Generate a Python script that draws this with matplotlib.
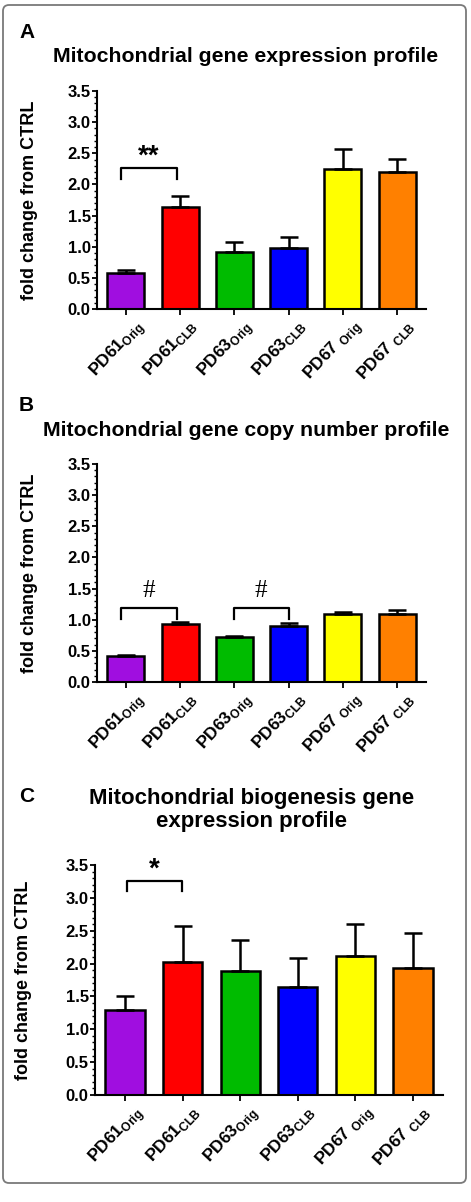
import matplotlib
matplotlib.use("Agg")
import matplotlib.pyplot as plt
import numpy as np
from matplotlib.patches import FancyBboxPatch
from matplotlib.ticker import MultipleLocator
from matplotlib.transforms import ScaledTranslation

plt.rcParams["font.family"] = ["Liberation Sans", "DejaVu Sans"]
plt.rcParams["mathtext.fontset"] = "custom"
plt.rcParams["mathtext.rm"] = "Liberation Sans:bold"

# data
labels = [r"PD61$_{\mathrm{Orig}}$", r"PD61$_{\mathrm{CLB}}$",
          r"PD63$_{\mathrm{Orig}}$", r"PD63$_{\mathrm{CLB}}$",
          r"PD67 $_{\mathrm{Orig}}$", r"PD67 $_{\mathrm{CLB}}$"]
colors = ["#a00ee0", "#ff0000", "#00bb00", "#0000ff", "#ffff00", "#ff8000"]

expr_mean = [0.57, 1.64, 0.91, 0.98, 2.25, 2.20]
expr_err = [0.05, 0.18, 0.16, 0.17, 0.32, 0.21]

copy_mean = [0.41, 0.93, 0.72, 0.90, 1.09, 1.09]
copy_err = [0.02, 0.03, 0.02, 0.05, 0.04, 0.06]

bio_mean = [1.29, 2.02, 1.89, 1.64, 2.12, 1.94]
bio_err = [0.21, 0.55, 0.47, 0.45, 0.48, 0.52]

W, H = 471, 1202
fig = plt.figure(figsize=(W / 100, H / 100), dpi=100)

# rounded frame
frame = FancyBboxPatch((0.09, 0.25), 4.51, 11.66, boxstyle="round,pad=0.06",
                       transform=fig.dpi_scale_trans, fill=False,
                       edgecolor="#7a7a7a", linewidth=1.3)
fig.patches.append(frame)


def panel(rect, means, errs, xpad):
    ax = fig.add_axes(rect)
    x = np.arange(len(means))
    ax.bar(x, means, width=0.68, color=colors, edgecolor="black", linewidth=1.8,
           yerr=[np.zeros(len(errs)), errs],
           error_kw=dict(ecolor="black", elinewidth=1.8, capsize=6.5, capthick=1.8),
           zorder=2)
    ax.set_xlim(-xpad, len(means) - 1 + xpad)
    ax.set_ylim(0, 3.5)
    ax.yaxis.set_major_locator(MultipleLocator(0.5))
    ax.yaxis.set_minor_locator(MultipleLocator(0.1))
    ax.yaxis.set_major_formatter(matplotlib.ticker.FormatStrFormatter("%.1f"))
    ax.spines["top"].set_visible(False)
    ax.spines["right"].set_visible(False)
    ax.spines["left"].set_linewidth(1.5)
    ax.spines["bottom"].set_linewidth(1.5)
    ax.tick_params(axis="y", which="major", length=3.5, width=1.3, labelsize=12, pad=1)
    ax.tick_params(axis="y", which="minor", length=2, width=1)
    ax.tick_params(axis="x", length=4, width=1.3, pad=1)
    for t in ax.get_yticklabels():
        t.set_fontweight("bold")
    ax.set_xticks(x)
    ax.set_xticklabels(labels, rotation=47, ha="right", rotation_mode="anchor",
                       fontsize=12.5, fontweight="bold")
    shift = ScaledTranslation(0.07, 0, fig.dpi_scale_trans)
    for t in ax.get_xticklabels():
        t.set_transform(t.get_transform() + shift)
    ax.set_ylabel("fold change from CTRL", fontsize=13, fontweight="bold")
    ax.yaxis.set_label_coords(-0.18, 0.5)
    return ax


def bracket(ax, x0, x1, ytop, ybot, text, ty, size, weight="bold", family=None):
    ax.plot([x0, x0, x1, x1], [ybot, ytop, ytop, ybot], color="black", lw=1.6,
            clip_on=False, zorder=3)
    kw = dict(ha="center", va="center", fontsize=size, fontweight=weight)
    if family:
        kw["family"] = family
    ax.text((x0 + x1) / 2, ty, text, **kw)


# panel A
axA = panel([97 / W, 1 - 309 / H, 329 / W, 218 / H], expr_mean, expr_err, 0.53)
bracket(axA, -0.08, 0.94, 2.26, 2.08, "**", 2.45, 20)
fig.text(19 / W, 1 - 32 / H, "A", fontsize=15, fontweight="bold", va="center")
fig.text(246 / W, 1 - 56 / H, "Mitochondrial gene expression profile",
         fontsize=15.3, fontweight="bold", ha="center", va="center")

# panel B
axB = panel([97 / W, 1 - 682 / H, 329 / W, 218 / H], copy_mean, copy_err, 0.53)
bracket(axB, -0.08, 0.94, 1.19, 1.01, "#", 1.46, 18, weight="normal",
        family="Liberation Serif")
bracket(axB, 1.99, 3.00, 1.19, 1.01, "#", 1.46, 18, weight="normal",
        family="Liberation Serif")
fig.text(19 / W, 1 - 406 / H, "B", fontsize=15, fontweight="bold", va="center")
fig.text(246 / W, 1 - 430 / H, "Mitochondrial gene copy number profile",
         fontsize=15.3, fontweight="bold", ha="center", va="center")

# panel C
axC = panel([95 / W, 1 - 1095 / H, 348 / W, 230 / H], bio_mean, bio_err, 0.52)
axC.yaxis.set_label_coords(-0.18, 0.5)
bracket(axC, 0.03, 0.99, 3.26, 3.11, "*", 3.43, 20)
fig.text(19 / W, 1 - 797 / H, "C", fontsize=15, fontweight="bold", va="center")
fig.text(252 / W, 1 - 810 / H, "Mitochondrial biogenesis gene\nexpression profile",
         fontsize=16, fontweight="bold", ha="center", va="center",
         linespacing=1.1)

fig.savefig("out.png", dpi=100, facecolor="white")
